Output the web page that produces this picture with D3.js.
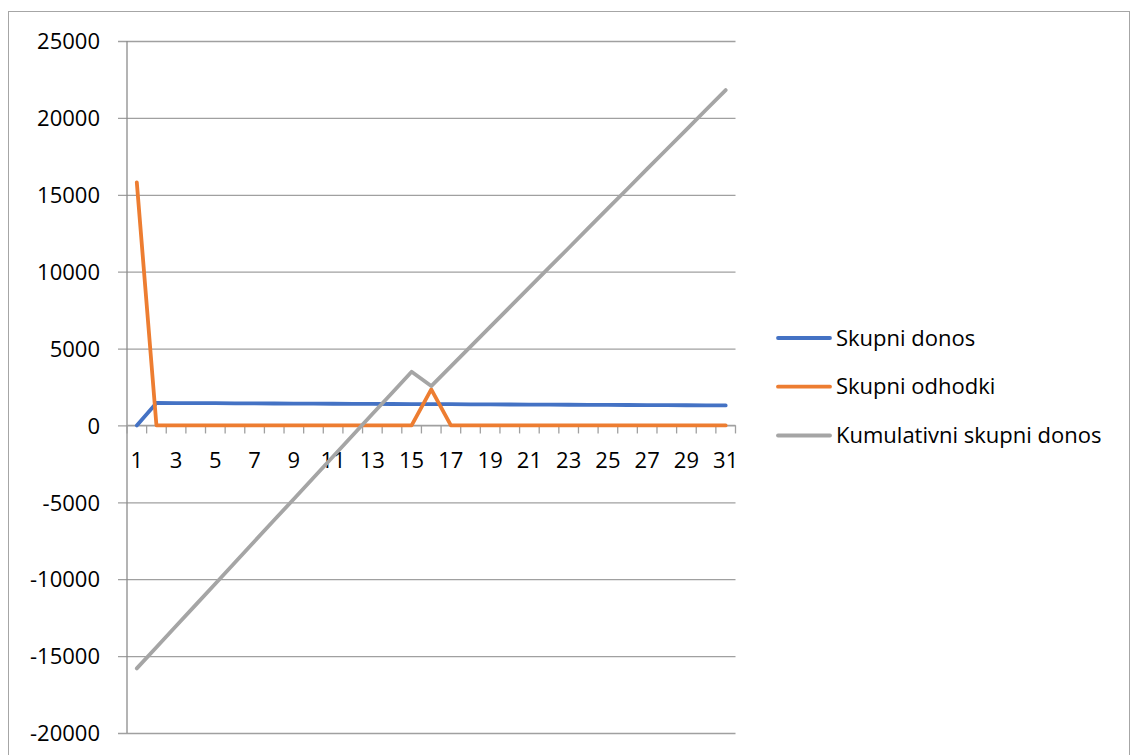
<!DOCTYPE html>
<html>
<head>
<meta charset="utf-8">
<script src="https://cdn.jsdelivr.net/npm/d3@7"></script>
<style>
  html, body { margin: 0; padding: 0; background: #fff; }
  svg { display: block; }
  text { font-family: "Open Sans", "Noto Sans", sans-serif; fill: #000; }
</style>
</head>
<body>
<svg id="chart" width="1131" height="755"></svg>
<script>
// Periods 1..31
const periods = d3.range(1, 32);

// Skupni donos (annual return)
const skupniDonos = [
  0, 1460, 1455, 1450, 1445, 1440, 1434, 1428, 1423, 1418, 1412,
  1406, 1400, 1395, 1390, 1385, 1380, 1374, 1369, 1363, 1358,
  1352, 1346, 1341, 1335, 1330, 1324, 1318, 1312, 1306, 1300
];

// Skupni odhodki (expenses)
const skupniOdhodki = [
  15800, 0, 0, 0, 0, 0, 0, 0, 0, 0, 0,
  0, 0, 0, 0, 2340, 0, 0, 0, 0, 0,
  0, 0, 0, 0, 0, 0, 0, 0, 0, 0
];

// Kumulativni skupni donos (cumulative return)
const kumulativniDonos = [
  -15800, -14420, -13040, -11670, -10290, -8910, -7530, -6150, -4780, -3400, -2020,
  -640, 740, 2110, 3490, 2560, 3840, 5130, 6410, 7690, 8980,
  10260, 11540, 12830, 14110, 15390, 16680, 17960, 19240, 20530, 21810
];

const yTicks = [-20000, -15000, -10000, -5000, 0, 5000, 10000, 15000, 20000, 25000];
const xTickLabels = periods.filter(p => p % 2 === 1);

const seriesNames = ["Skupni donos", "Skupni odhodki", "Kumulativni skupni donos"];
const seriesColors = ["#4472C4", "#ED7D31", "#A5A5A5"];
const seriesData = [skupniDonos, skupniOdhodki, kumulativniDonos];

const FONT_SIZE = "22px";

const svg = d3.select("#chart");

// outer chart frame
svg.append("rect")
  .attr("x", 8.5).attr("y", 11.5)
  .attr("width", 1121).attr("height", 760)
  .attr("fill", "none").attr("stroke", "#a6a6a6").attr("stroke-width", 1);

const plotLeft = 127, plotRight = 735.5, plotTop = 41, plotBottom = 733;

const x = d3.scaleBand().domain(periods).range([plotLeft, plotRight]).padding(0);
const xc = p => x(p) + x.bandwidth() / 2;
const y = d3.scaleLinear().domain([-20000, 25000]).range([plotBottom, plotTop]);

// horizontal gridlines with small outward ticks
const yAxis = d3.axisLeft(y).tickValues(yTicks)
  .tickSize(-(plotRight - plotLeft)).tickSizeOuter(0).tickFormat(d => d);
const gy = svg.append("g")
  .attr("transform", `translate(${plotLeft},0)`)
  .call(yAxis);
gy.select(".domain").remove();
gy.selectAll(".tick line")
  .attr("x1", -9)
  .attr("stroke", "#a0a0a0").attr("stroke-width", 1.3);
gy.selectAll(".tick text")
  .attr("x", -27)
  .attr("dy", "0.35em")
  .style("font-size", FONT_SIZE)
  .style("font-family", "'Open Sans', sans-serif")
  .attr("fill", "#000");

// vertical value axis line
svg.append("line")
  .attr("x1", plotLeft).attr("x2", plotLeft)
  .attr("y1", plotTop).attr("y2", plotBottom)
  .attr("stroke", "#8c8c8c").attr("stroke-width", 1.3);

// category axis on the zero line
const y0 = y(0);
svg.append("line")
  .attr("x1", plotLeft).attr("x2", plotRight)
  .attr("y1", y0).attr("y2", y0)
  .attr("stroke", "#a0a0a0").attr("stroke-width", 1.3);

const boundaries = periods.map(p => x(p)).concat([plotRight]);
svg.append("g").selectAll("line")
  .data(boundaries)
  .join("line")
  .attr("x1", d => d).attr("x2", d => d)
  .attr("y1", y0).attr("y2", y0 + 8)
  .attr("stroke", "#a0a0a0").attr("stroke-width", 1.3);

svg.append("g").selectAll("text")
  .data(xTickLabels)
  .join("text")
  .attr("x", d => xc(d))
  .attr("y", y0 + 35)
  .attr("text-anchor", "middle")
  .attr("dy", "0.35em")
  .style("font-size", FONT_SIZE)
  .text(d => d);

// series lines
const line = d3.line()
  .x((d, i) => xc(periods[i]))
  .y(d => y(d));

seriesData.forEach((vals, k) => {
  svg.append("path")
    .datum(vals)
    .attr("d", line)
    .attr("fill", "none")
    .attr("stroke", seriesColors[k])
    .attr("stroke-width", 3.8)
    .attr("stroke-linejoin", "round")
    .attr("stroke-linecap", "round");
});

// legend
const legend = svg.append("g");
const legendY = [338, 386.7, 435.5];
seriesNames.forEach((name, k) => {
  legend.append("line")
    .attr("x1", 778).attr("x2", 830)
    .attr("y1", legendY[k]).attr("y2", legendY[k])
    .attr("stroke", seriesColors[k]).attr("stroke-width", 3.8)
    .attr("stroke-linecap", "round");
  legend.append("text")
    .attr("x", 836).attr("y", legendY[k])
    .attr("dy", "0.35em")
    .style("font-size", FONT_SIZE)
    .text(name);
});
</script>
</body>
</html>
